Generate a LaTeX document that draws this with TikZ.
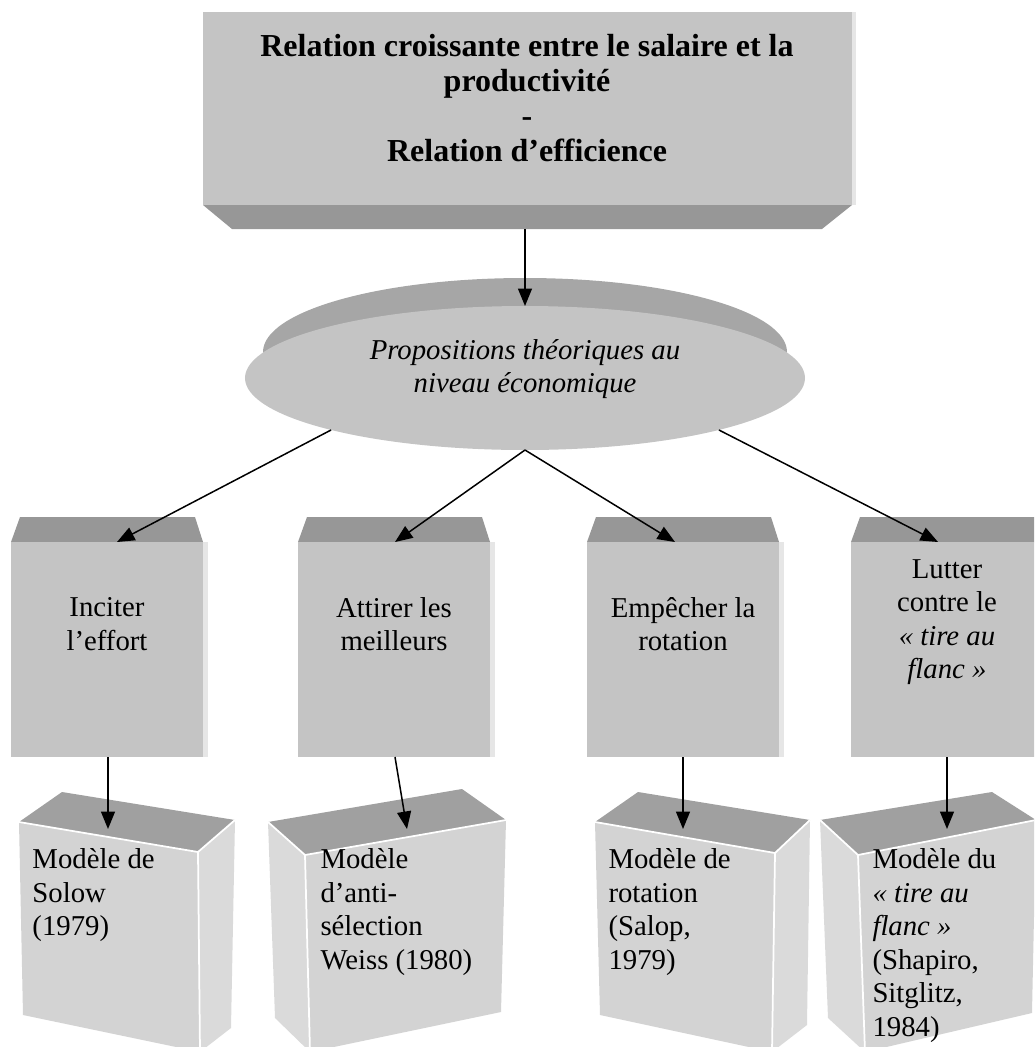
\documentclass[tikz,border=0pt]{standalone}
\usepackage{fontspec}
\setmainfont{Liberation Serif}
\usetikzlibrary{arrows.meta,shapes.geometric}

\definecolor{facegray}{HTML}{C4C4C4}
\definecolor{bevelgray}{HTML}{979797}
\definecolor{rimgray}{HTML}{A6A6A6}
\definecolor{lidgray}{HTML}{A0A0A0}
\definecolor{frontgray}{HTML}{D3D3D3}
\definecolor{sidegray}{HTML}{DADADA}
\definecolor{edgegray}{HTML}{E6E6E6}

\tikzset{
	link/.style={-{Triangle[width=5.6pt,length=7pt]}, line width=0.6pt},
	txt/.style={inner sep=0pt, font=\fontsize{11.5}{13.4}\selectfont},
	boxtxt/.style={txt, align=center},
	modtxt/.style={txt, align=left, anchor=north west},
	edge/.style={draw=white, line width=0.7pt},
}

\begin{document}
\begin{tikzpicture}[x=0.4pt, y=-0.4pt]

	\useasboundingbox (0,0) rectangle (1034,1047);
	\clip (0,0) rectangle (1034,1047);

% coordinates %{{{2

	\coordinate (rel-s) at (525,229);

	% tops of the four boxes
	\coordinate (inciter-n) at (117,542);
	\coordinate (attirer-n) at (395,542);
	\coordinate (empecher-n) at (675,542);
	\coordinate (lutter-n) at (938,542);

	% bottoms of the four boxes
	\coordinate (inciter-s) at (108,757);
	\coordinate (attirer-s) at (395,757);
	\coordinate (empecher-s) at (683,757);
	\coordinate (lutter-s) at (947,757);

	% tops of the models
	\coordinate (solow-n) at (108,829);
	\coordinate (weiss-n) at (407,829);
	\coordinate (salop-n) at (683,829);
	\coordinate (shapiro-n) at (947,829);

% top box %{{{2

	\fill[bevelgray] (203,205) -- (852,205) -- (822,229) -- (232,229) -- cycle;
	\fill[facegray] (203,12) rectangle (852,205);
	\fill[edgegray] (852,12) rectangle (856,205);

	\node[txt, align=center, font=\bfseries\fontsize{12.8}{13.9}\selectfont] (rel) at (527,98)
		{Relation croissante entre le salaire et la\\productivité\\-\\Relation d’efficience};

% ellipse %{{{2

	\fill[rimgray] (525,352) ellipse [x radius=262, y radius=74];
	\node[ellipse, fill=facegray, inner sep=0pt, outer sep=0pt,
		minimum width=224pt, minimum height=57.6pt] (prop) at (525,378) {};

	\node[txt, align=center, font=\itshape\fontsize{11.5}{13.2}\selectfont] (propText) at (525,369)
		{Propositions théoriques au\\niveau économique};

% middle boxes %{{{2

	\fill[bevelgray] (11,542) -- (20,517) -- (195,517) -- (203,542) -- cycle;
	\fill[facegray] (11,542) rectangle (203,757);
	\fill[edgegray] (203,542) rectangle (208,757);

	\fill[bevelgray] (298,542) -- (307,517) -- (482,517) -- (490,542) -- cycle;
	\fill[facegray] (298,542) rectangle (490,757);
	\fill[edgegray] (490,542) rectangle (495,757);

	\fill[bevelgray] (587,542) -- (596,517) -- (771,517) -- (779,542) -- cycle;
	\fill[facegray] (587,542) rectangle (779,757);
	\fill[edgegray] (779,542) rectangle (784,757);

	\fill[bevelgray] (851,542) -- (860,517) -- (1040,517) -- (1040,542) -- cycle;
	\fill[facegray] (851,542) rectangle (1040,757);

	\node[boxtxt] (inciter) at (107,624) {Inciter\\l’effort};
	\node[boxtxt] (attirer) at (394,624) {Attirer les\\meilleurs};
	\node[boxtxt] (empecher) at (683,624) {Empêcher la\\rotation};
	\node[boxtxt] (lutter) at (947,622)
		{Lutter\\contre le\\\textit{« tire au}\\\textit{flanc »}};

% model boxes %{{{2

	% Solow
	\fill[lidgray] (19,822) -- (62,792) -- (235,820) -- (198,852) -- cycle;
	\fill[frontgray] (19,822) -- (198,852) -- (200,1052) -- (23,1015) -- cycle;
	\fill[sidegray] (198,852) -- (235,820) -- (231,1028) -- (200,1052) -- cycle;
	\draw[edge] (19,822) -- (198,852) -- (235,820);
	\draw[edge] (198,852) -- (200,1052);

	% Weiss
	\fill[lidgray] (268,822) -- (462,789) -- (506,820) -- (305,855) -- cycle;
	\fill[frontgray] (305,855) -- (506,820) -- (501,1012) -- (310,1052) -- cycle;
	\fill[sidegray] (268,822) -- (305,855) -- (310,1052) -- (275,1018) -- cycle;
	\draw[edge] (268,822) -- (305,855) -- (506,820);
	\draw[edge] (305,855) -- (310,1052);

	% Salop
	\fill[lidgray] (595,822) -- (638,792) -- (810,820) -- (775,853) -- cycle;
	\fill[frontgray] (595,822) -- (775,853) -- (772,1052) -- (600,1015) -- cycle;
	\fill[sidegray] (775,853) -- (810,820) -- (807,1025) -- (772,1052) -- cycle;
	\draw[edge] (595,822) -- (775,853) -- (810,820);
	\draw[edge] (775,853) -- (772,1052);

	% Shapiro
	\fill[lidgray] (820,820) -- (992,792) -- (1036,820) -- (858,855) -- cycle;
	\fill[frontgray] (858,855) -- (1036,820) -- (1032,1013) -- (865,1052) -- cycle;
	\fill[sidegray] (820,820) -- (858,855) -- (865,1052) -- (828,1018) -- cycle;
	\draw[edge] (820,820) -- (858,855) -- (1036,820);
	\draw[edge] (858,855) -- (865,1052);

	\node[modtxt] (solow) at (32,848) {Modèle de\\Solow\\(1979)};
	\node[modtxt] (weiss) at (320,848) {Modèle\\d’anti-\\sélection\\Weiss (1980)};
	\node[modtxt] (salop) at (608,848) {Modèle de\\rotation\\(Salop,\\1979)};
	\node[modtxt] (shapiro) at (872,848)
		{Modèle du\\\textit{« tire au}\\\textit{flanc »}\\(Shapiro,\\Sitglitz,\\1984)};

% arrows %{{{2

	\draw[link] (rel-s) -- (prop.north);

	\draw[link] (prop.195) -- (inciter-n);
	\draw[link] (prop.south) -- (attirer-n);
	\draw[link] (prop.south) -- (empecher-n);
	\draw[link] (prop.-15) -- (lutter-n);

	\draw[link] (inciter-s) -- (solow-n);
	\draw[link] (attirer-s) -- (weiss-n);
	\draw[link] (empecher-s) -- (salop-n);
	\draw[link] (lutter-s) -- (shapiro-n);

% closing %{{{2

\end{tikzpicture}
\end{document}
